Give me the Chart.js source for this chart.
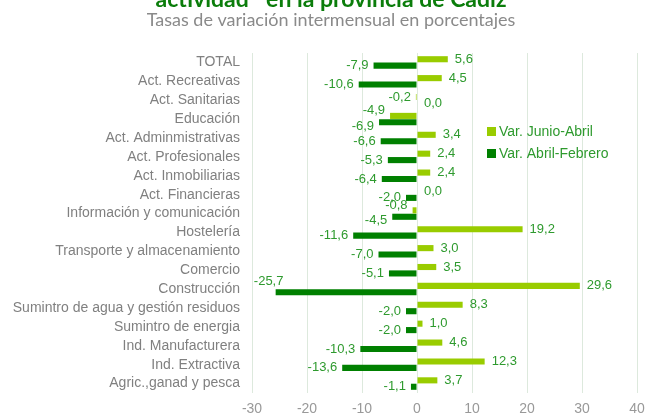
<!DOCTYPE html>
<html>
<head>
<meta charset="utf-8">
<script src="https://cdn.jsdelivr.net/npm/chart.js@4.4.0/dist/chart.umd.min.js"></script>
<style>
  html, body { margin: 0; padding: 0; background: #fff; }
  #wrap { width: 647px; height: 414px; position: relative; }
</style>
</head>
<body>
<div id="wrap"><canvas id="ramasChart"></canvas></div>
<script>
// categories, top to bottom
const ramas = [
  'TOTAL', 'Act. Recreativas', 'Act. Sanitarias', 'Educación', 'Act. Adminmistrativas',
  'Act. Profesionales', 'Act. Inmobiliarias', 'Act. Financieras', 'Información y comunicación',
  'Hostelería', 'Transporte y almacenamiento', 'Comercio', 'Construcción',
  'Sumintro de agua y gestión residuos', 'Sumintro de energia', 'Ind. Manufacturera',
  'Ind. Extractiva', 'Agric.,ganad y pesca'
];
const varJunioAbril = [5.6, 4.5, -0.2, -4.9, 3.4, 2.4, 2.4, 0.0, -0.8, 19.2, 3.0, 3.5, 29.6, 8.3, 1.0, 4.6, 12.3, 3.7];
const varAbrilFebrero = [-7.9, -10.6, 0.0, -6.9, -6.6, -5.3, -6.4, -2.0, -4.5, -11.6, -7.0, -5.1, -25.7, -2.0, -2.0, -10.3, -13.6, -1.1];
const serieNames = ['Var. Junio-Abril', 'Var. Abril-Febrero'];
const xTicks = [-30, -20, -10, 0, 10, 20, 30, 40];

const lightGreen = '#99cc00';
const darkGreen = '#008000';
const labelGreen = '#2e9a2e';
const sans = 'Arial, "Liberation Sans", sans-serif';

const fmt = v => v.toFixed(1).replace('.', ',');

// value labels at the end of each bar
const valueLabels = {
  id: 'valueLabels',
  afterDatasetsDraw(chart) {
    const ctx = chart.ctx;
    const area = chart.chartArea;
    ctx.save();
    ctx.font = '13px ' + sans;
    ctx.fillStyle = labelGreen;
    ctx.textBaseline = 'middle';
    chart.data.datasets.forEach((ds, di) => {
      const meta = chart.getDatasetMeta(di);
      meta.data.forEach((bar, i) => {
        const v = ds.data[i];
        const txt = fmt(v);
        // both bars negative -> push labels apart so they don't overlap
        const bothNeg = varJunioAbril[i] < 0 && varAbrilFebrero[i] < 0;
        let dy = 0;
        if (bothNeg) dy = di === 0 ? -5 : 4;
        if (v >= 0) {
          ctx.textAlign = 'left';
          ctx.fillText(txt, bar.x + 7, bar.y + dy);
        } else if (bar.x - 5 - ctx.measureText(txt).width < area.left) {
          // no room on the left: put it above the bar end
          ctx.textAlign = 'center';
          ctx.fillText(txt, bar.x - 7, bar.y - 11);
        } else {
          ctx.textAlign = 'right';
          ctx.fillText(txt, bar.x - 5, bar.y + dy);
        }
      });
    });
    ctx.restore();
  }
};

// title (cut at top), subtitle and legend
const decor = {
  id: 'decor',
  afterDraw(chart) {
    const ctx = chart.ctx;
    ctx.save();
    ctx.fillStyle = '#0b7d0b';
    ctx.textBaseline = 'alphabetic';
    ctx.textAlign = 'left';
    const big = 'bold 23px Lato, sans-serif';
    const small = 'bold 12px Lato, sans-serif';
    const p1 = 'actividad', p2 = '(*)', p3 = ' en la provincia de Cádiz';
    ctx.font = big; const w1 = ctx.measureText(p1).width, w3 = ctx.measureText(p3).width;
    ctx.font = small; const w2 = ctx.measureText(p2).width;
    let x = 331 - (w1 + w2 + w3) / 2;
    const by = 7;
    ctx.font = big; ctx.fillText(p1, x, by); x += w1;
    ctx.font = small; ctx.fillText(p2, x, by - 9); x += w2;
    ctx.font = big; ctx.fillText(p3, x, by);
    // subtitle
    ctx.font = '18px Lato, sans-serif';
    ctx.fillStyle = '#8a8a8a';
    ctx.textAlign = 'center';
    ctx.fillText('Tasas de variación intermensual en porcentajes', 331, 26);
    // legend
    const colors = [lightGreen, darkGreen];
    ctx.font = '14px ' + sans;
    ctx.textAlign = 'left';
    ctx.textBaseline = 'middle';
    serieNames.forEach((name, k) => {
      const cy = 131 + k * 22;
      ctx.fillStyle = colors[k];
      ctx.fillRect(487, cy - 4, 9, 9);
      ctx.fillStyle = labelGreen;
      ctx.fillText(name, 499, cy + 1);
    });
    ctx.restore();
  }
};

const ctx = document.getElementById('ramasChart').getContext('2d');
const ramasChart = new Chart(ctx, {
  type: 'bar',
  data: {
    labels: ramas,
    datasets: [
      {
        label: serieNames[0],
        data: varJunioAbril,
        backgroundColor: lightGreen,
        categoryPercentage: 0.68,
        barPercentage: 0.95
      },
      {
        label: serieNames[1],
        data: varAbrilFebrero,
        backgroundColor: darkGreen,
        categoryPercentage: 0.68,
        barPercentage: 0.95
      }
    ]
  },
  options: {
    indexAxis: 'y',
    responsive: true,
    maintainAspectRatio: false,
    animation: false,
    layout: { padding: { top: 53, right: 0, bottom: 0, left: 0 } },
    plugins: {
      legend: { display: false },
      tooltip: { enabled: false }
    },
    scales: {
      x: {
        min: -30,
        max: 40,
        afterBuildTicks: scale => { scale.ticks = xTicks.map(v => ({ value: v })); },
        afterFit: scale => {
          scale.height = 21;
          scale.paddingRight = 10;
          scale.paddingLeft = 0;
        },
        grid: { color: '#dde9dd', drawTicks: false },
        border: { display: false },
        ticks: {
          color: '#999',
          padding: 8,
          font: { family: sans, size: 14 }
        }
      },
      y: {
        afterFit: scale => { scale.width = 252; },
        grid: { display: false, drawTicks: false },
        border: { display: false },
        ticks: {
          color: '#808080',
          padding: 12,
          autoSkip: false,
          font: { family: sans, size: 14 }
        }
      }
    }
  },
  plugins: [valueLabels, decor]
});
</script>
</body>
</html>
